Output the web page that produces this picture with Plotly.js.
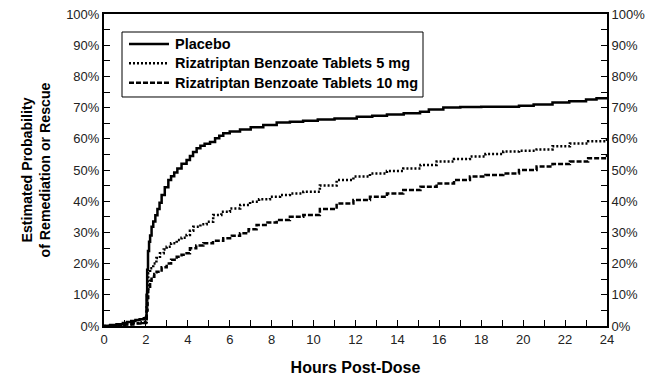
<!DOCTYPE html>
<html>
<head>
<meta charset="utf-8">
<script src="https://cdn.plot.ly/plotly-3.0.1.min.js"></script>
<style>html,body{margin:0;padding:0;background:#fff;}#chart{width:669px;height:382px;}</style>
</head>
<body>
<div id="chart"></div>
<script>
const seriesNames = ["Placebo", "Rizatriptan Benzoate Tablets 5 mg", "Rizatriptan Benzoate Tablets 10 mg"];

const placeboHours = [0,0.3,0.6,0.9,1.1,1.3,1.5,1.7,1.9,2.0,2.03,2.06,2.1,2.15,2.2,2.27,2.35,2.45,2.55,2.65,2.75,2.9,3.07,3.2,3.35,3.5,3.7,3.94,4.1,4.25,4.42,4.6,4.8,5.06,5.3,5.5,5.69,6.0,6.49,7.0,7.6,8.24,8.87,9.5,10.2,11.0,12.06,12.8,13.5,14.3,15.08,15.5,16.19,17.0,18.0,19.05,19.8,20.5,21.4,22.2,23.0,23.5,24];
const placeboProb = [0,0.3,0.6,1.0,1.3,1.6,1.9,2.2,2.5,2.8,10,18,24,27,29,31.8,33.5,35.5,37.5,39.5,42,44.5,46.8,48,49.2,50.5,52,53.2,54.5,55.8,57,57.8,58.4,59,60.2,61,61.8,62.3,63,63.7,64.4,65.2,65.5,65.8,66.2,66.5,67.1,67.4,67.8,68.2,68.7,69.4,70.0,70.2,70.3,70.3,70.6,71.0,71.6,72.0,72.6,73.0,73.3];

const riza5Hours = [0,0.5,1.0,1.4,1.8,2.0,2.03,2.06,2.11,2.2,2.35,2.5,2.67,2.85,2.99,3.2,3.47,3.7,3.94,4.1,4.26,4.6,4.9,5.21,5.6,6.01,6.5,6.97,7.4,7.92,8.4,8.87,9.51,10.3,11.1,11.9,12.69,13.5,14.28,15.1,15.87,16.7,17.46,18.2,19.05,19.8,20.64,21.4,22.23,23.1,24];
const riza5Prob = [0,0.3,0.6,1.0,1.3,1.5,6,11,16.9,18.5,20,21.8,23.3,24.5,25.4,26.5,27.6,28.3,29.2,30.5,31.8,32.6,33.4,35.6,36.6,37.7,38.8,39.8,40.6,41.4,42,42.5,43,45,46.8,47.9,48.9,49.7,50.5,51.6,52.7,53.5,54.3,55.1,55.9,56.2,56.6,57.6,58.5,59.2,59.9];

const riza10Hours = [0,0.5,1.0,1.4,1.8,2.0,2.04,2.08,2.11,2.2,2.27,2.4,2.51,2.75,2.99,3.2,3.47,3.7,3.94,4.1,4.4,4.74,5.2,5.69,6.1,6.49,6.9,7.28,7.8,8.24,8.87,9.51,10.3,11.1,11.9,12.69,13.5,14.28,15.1,15.87,16.7,17.46,18.2,19.05,19.8,20.64,21.4,22.23,23.1,24];
const riza10Prob = [0,0.2,0.5,0.8,1.0,1.2,5,9,12.6,14.5,15.8,16.7,17.4,18.8,20,21.2,22.2,22.8,23.3,24.9,25.8,26.5,27.3,28.1,28.9,29.7,31,32.4,33.2,34,35,35.6,37.5,39.3,40.4,41.4,42.5,43.6,44.6,45.7,46.8,47.9,48.4,48.9,50,51.1,51.9,52.7,53.8,55.1];

const yTickVals = [0,10,20,30,40,50,60,70,80,90,100];
const yTickText = ["0%","10%","20%","30%","40%","50%","60%","70%","80%","90%","100%"];
const xTickVals = [0,2,4,6,8,10,12,14,16,18,20,22,24];

const FONT = "Liberation Sans, Arial, sans-serif";
const dashes = ["solid", "2px,2px", "5px,2px"];

const traces = [
  {x: placeboHours, y: placeboProb, name: seriesNames[0], mode: "lines",
   line: {shape: "hv", color: "#000", width: 2.5, dash: dashes[0]}},
  {x: riza5Hours, y: riza5Prob, name: seriesNames[1], mode: "lines",
   line: {shape: "hv", color: "#000", width: 2.5, dash: dashes[1]}},
  {x: riza10Hours, y: riza10Prob, name: seriesNames[2], mode: "lines",
   line: {shape: "hv", color: "#000", width: 2.5, dash: dashes[2]}},
  {x: [0, 24], y: [0, 0], yaxis: "y2", mode: "lines", showlegend: false, hoverinfo: "skip",
   line: {color: "rgba(0,0,0,0)", width: 0}}
];

// Legend drawn as a box with samples (paper coordinates)
const legRows = [0.9038, 0.8420, 0.7798];
const shapes = [
  {type: "rect", xref: "paper", yref: "paper", x0: 0.0358, x1: 0.6342, y0: 0.7340, y1: 0.9423,
   line: {color: "#000", width: 1}, fillcolor: "#fff", layer: "above"}
];
const annotations = [];
seriesNames.forEach((nm, i) => {
  shapes.push({type: "line", xref: "paper", yref: "paper", x0: 0.0497, x1: 0.1292, y0: legRows[i], y1: legRows[i],
    line: {color: "#000", width: 2.5, dash: dashes[i]}, layer: "above"});
  annotations.push({xref: "paper", yref: "paper", x: 0.1372, y: legRows[i], xanchor: "left", yanchor: "middle",
    text: "<b>" + nm + "</b>", showarrow: false, font: {family: FONT, size: 14.5, color: "#000"}});
});

const layout = {
  width: 669, height: 382,
  margin: {l: 104, r: 62, t: 14, b: 56},
  paper_bgcolor: "#fff", plot_bgcolor: "#fff",
  font: {family: FONT, color: "#000", size: 13},
  showlegend: false,
  shapes: shapes,
  annotations: annotations,
  xaxis: {
    range: [0, 24], tickvals: xTickVals, ticktext: xTickVals.map(String),
    ticks: "inside", ticklen: 6, tickwidth: 1, tickcolor: "#000",
    minor: {dtick: 1, ticks: "inside", ticklen: 6, tickwidth: 1, tickcolor: "#000", showgrid: false},
    showline: true, linecolor: "#000", linewidth: 2, mirror: true,
    showgrid: false, zeroline: false,
    tickfont: {family: FONT, size: 13, color: "#222"},
    title: {text: "<b>Hours Post-Dose</b>", font: {family: FONT, size: 16, color: "#000"}, standoff: 16}
  },
  yaxis: {
    range: [0, 100], tickvals: yTickVals, ticktext: yTickText,
    ticks: "inside", ticklen: 6, tickwidth: 1, tickcolor: "#000",
    minor: {dtick: 5, tick0: 0, ticks: "inside", ticklen: 6, tickwidth: 1, tickcolor: "#000", showgrid: false},
    showline: true, linecolor: "#000", linewidth: 2,
    showgrid: false, zeroline: false,
    tickfont: {family: FONT, size: 13, color: "#222"},
    title: {text: "<b>Estimated Probability<br>of Remediation or Rescue</b>", font: {family: FONT, size: 14.2, color: "#000"}, standoff: 12}
  },
  yaxis2: {
    overlaying: "y", side: "right", range: [0, 100],
    tickvals: yTickVals, ticktext: yTickText,
    ticks: "inside", ticklen: 6, tickwidth: 1, tickcolor: "#000",
    minor: {dtick: 5, tick0: 0, ticks: "inside", ticklen: 6, tickwidth: 1, tickcolor: "#000", showgrid: false},
    showline: true, linecolor: "#000", linewidth: 2,
    showgrid: false, zeroline: false,
    tickfont: {family: FONT, size: 13, color: "#222"}
  }
};

Plotly.newPlot("chart", traces, layout, {displayModeBar: false, staticPlot: true});
</script>
</body>
</html>
